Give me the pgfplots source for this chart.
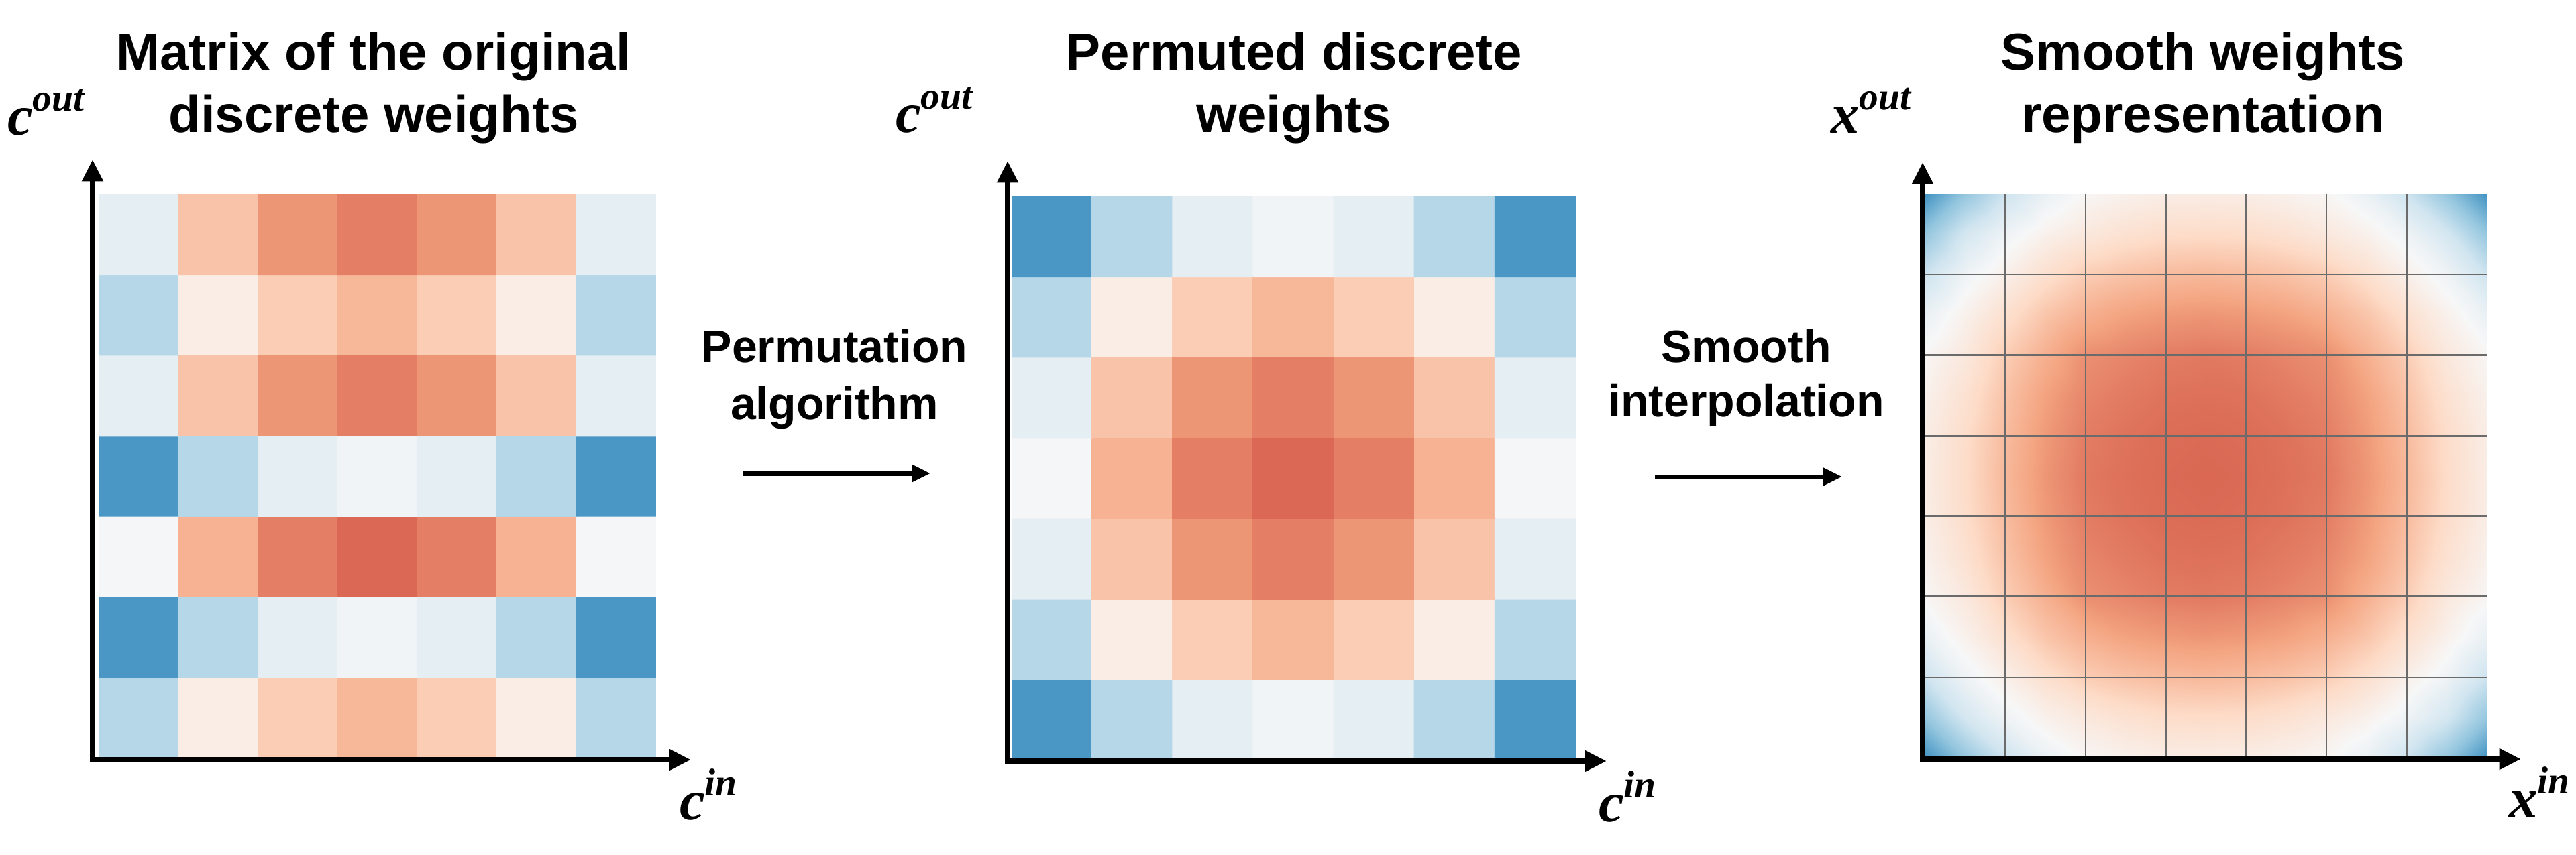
\documentclass[border=0pt]{standalone}
\usepackage{fontspec}
\setmainfont{Liberation Sans}
\newfontfamily\lserif{Liberation Serif}
\usepackage{pgfplots}
\pgfplotsset{compat=1.18}
\usetikzlibrary{arrows.meta}
\pgfplotsset{colormap={rdbu}{rgb255=(67,147,195) rgb255=(146,197,222) rgb255=(209,229,240) rgb255=(247,247,247) rgb255=(253,219,199) rgb255=(244,165,130) rgb255=(214,96,77)}}
\newcommand{\axlab}[2]{{\lserif\bfseries\itshape\fontsize{17}{17}\selectfont #1\raisebox{0.42em}{\fontsize{11.5}{11.5}\selectfont #2}}}
\newcommand{\ttl}{\bfseries\fontsize{15.6}{18}\selectfont}
\newcommand{\midf}{\bfseries\fontsize{13.6}{16}\selectfont}
\begin{document}
\begin{tikzpicture}[x=1pt,y=1pt]
\path[use as bounding box] (0,0) rectangle (768,254.8);
\pgfplotsset{hm/.style={anchor=south west, scale only axis, height=168.2pt,
  xmin=0,xmax=7,ymin=0,ymax=7, colormap name=rdbu, point meta min=-1, point meta max=1}}
% Panel 1: original discrete weights
\begin{axis}[hm, at={(29.6pt,28.8pt)}, width=166pt, hide axis]
\addplot[matrix plot*, mesh/cols=7, mesh/rows=7, point meta=explicit] coordinates {
(0.5,0.5)[-0.48] (1.5,0.5)[0.12] (2.5,0.5)[0.42] (3.5,0.5)[0.55] (4.5,0.5)[0.42] (5.5,0.5)[0.12] (6.5,0.5)[-0.48]
(0.5,1.5)[-0.97] (1.5,1.5)[-0.48] (2.5,1.5)[-0.17] (3.5,1.5)[-0.05] (4.5,1.5)[-0.17] (5.5,1.5)[-0.48] (6.5,1.5)[-0.97]
(0.5,2.5)[-0.02] (1.5,2.5)[0.59] (2.5,2.5)[0.85] (3.5,2.5)[0.96] (4.5,2.5)[0.85] (5.5,2.5)[0.59] (6.5,2.5)[-0.02]
(0.5,3.5)[-0.97] (1.5,3.5)[-0.48] (2.5,3.5)[-0.17] (3.5,3.5)[-0.05] (4.5,3.5)[-0.17] (5.5,3.5)[-0.48] (6.5,3.5)[-0.97]
(0.5,4.5)[-0.17] (1.5,4.5)[0.48] (2.5,4.5)[0.74] (3.5,4.5)[0.85] (4.5,4.5)[0.74] (5.5,4.5)[0.48] (6.5,4.5)[-0.17]
(0.5,5.5)[-0.48] (1.5,5.5)[0.12] (2.5,5.5)[0.42] (3.5,5.5)[0.55] (4.5,5.5)[0.42] (5.5,5.5)[0.12] (6.5,5.5)[-0.48]
(0.5,6.5)[-0.17] (1.5,6.5)[0.48] (2.5,6.5)[0.74] (3.5,6.5)[0.85] (4.5,6.5)[0.74] (5.5,6.5)[0.48] (6.5,6.5)[-0.17]
};
\end{axis}
% Panel 2: permuted discrete weights
\begin{axis}[hm, at={(301.6pt,28.2pt)}, width=168.2pt, hide axis]
\addplot[matrix plot*, mesh/cols=7, mesh/rows=7, point meta=explicit] coordinates {
(0.5,0.5)[-0.97] (1.5,0.5)[-0.48] (2.5,0.5)[-0.17] (3.5,0.5)[-0.05] (4.5,0.5)[-0.17] (5.5,0.5)[-0.48] (6.5,0.5)[-0.97]
(0.5,1.5)[-0.48] (1.5,1.5)[0.12] (2.5,1.5)[0.42] (3.5,1.5)[0.55] (4.5,1.5)[0.42] (5.5,1.5)[0.12] (6.5,1.5)[-0.48]
(0.5,2.5)[-0.17] (1.5,2.5)[0.48] (2.5,2.5)[0.74] (3.5,2.5)[0.85] (4.5,2.5)[0.74] (5.5,2.5)[0.48] (6.5,2.5)[-0.17]
(0.5,3.5)[-0.02] (1.5,3.5)[0.59] (2.5,3.5)[0.85] (3.5,3.5)[0.96] (4.5,3.5)[0.85] (5.5,3.5)[0.59] (6.5,3.5)[-0.02]
(0.5,4.5)[-0.17] (1.5,4.5)[0.48] (2.5,4.5)[0.74] (3.5,4.5)[0.85] (4.5,4.5)[0.74] (5.5,4.5)[0.48] (6.5,4.5)[-0.17]
(0.5,5.5)[-0.48] (1.5,5.5)[0.12] (2.5,5.5)[0.42] (3.5,5.5)[0.55] (4.5,5.5)[0.42] (5.5,5.5)[0.12] (6.5,5.5)[-0.48]
(0.5,6.5)[-0.97] (1.5,6.5)[-0.48] (2.5,6.5)[-0.17] (3.5,6.5)[-0.05] (4.5,6.5)[-0.17] (5.5,6.5)[-0.48] (6.5,6.5)[-0.97]
};
\end{axis}
% Panel 3: smooth representation
\begin{axis}[hm, at={(574pt,28.8pt)}, width=167.4pt, axis line style={draw=none},
  xtick={1,2,3,4,5,6}, ytick={1,2,3,4,5,6}, xticklabels={}, yticklabels={},
  major tick length=0pt, grid=major, major grid style={draw=black!58, line width=0.5pt}, axis on top]
\addplot[surf, shader=interp, mesh/cols=15, mesh/rows=15, point meta=explicit] coordinates {
(0,0)[-1.00] (0.5,0)[-0.65] (1,0)[-0.35] (1.5,0)[-0.12] (2,0)[0.02] (2.5,0)[0.08] (3,0)[0.12] (3.5,0)[0.13] (4,0)[0.12] (4.5,0)[0.08] (5,0)[0.02] (5.5,0)[-0.12] (6,0)[-0.35] (6.5,0)[-0.65] (7,0)[-1.00]
(0,0.5)[-0.65] (0.5,0.5)[-0.30] (1,0.5)[-0.08] (1.5,0.5)[0.08] (2,0.5)[0.18] (2.5,0.5)[0.26] (3,0.5)[0.31] (3.5,0.5)[0.32] (4,0.5)[0.31] (4.5,0.5)[0.26] (5,0.5)[0.18] (5.5,0.5)[0.08] (6,0.5)[-0.08] (6.5,0.5)[-0.30] (7,0.5)[-0.65]
(0,1)[-0.35] (0.5,1)[-0.08] (1,1)[0.10] (1.5,1)[0.28] (2,1)[0.42] (2.5,1)[0.49] (3,1)[0.53] (3.5,1)[0.55] (4,1)[0.53] (4.5,1)[0.49] (5,1)[0.42] (5.5,1)[0.28] (6,1)[0.10] (6.5,1)[-0.08] (7,1)[-0.35]
(0,1.5)[-0.12] (0.5,1.5)[0.08] (1,1.5)[0.28] (1.5,1.5)[0.47] (2,1.5)[0.60] (2.5,1.5)[0.68] (3,1.5)[0.72] (3.5,1.5)[0.74] (4,1.5)[0.72] (4.5,1.5)[0.68] (5,1.5)[0.60] (5.5,1.5)[0.47] (6,1.5)[0.28] (6.5,1.5)[0.08] (7,1.5)[-0.12]
(0,2)[0.02] (0.5,2)[0.18] (1,2)[0.42] (1.5,2)[0.60] (2,2)[0.77] (2.5,2)[0.82] (3,2)[0.86] (3.5,2)[0.88] (4,2)[0.86] (4.5,2)[0.82] (5,2)[0.77] (5.5,2)[0.60] (6,2)[0.42] (6.5,2)[0.18] (7,2)[0.02]
(0,2.5)[0.08] (0.5,2.5)[0.26] (1,2.5)[0.49] (1.5,2.5)[0.68] (2,2.5)[0.82] (2.5,2.5)[0.87] (3,2.5)[0.91] (3.5,2.5)[0.92] (4,2.5)[0.91] (4.5,2.5)[0.87] (5,2.5)[0.82] (5.5,2.5)[0.68] (6,2.5)[0.49] (6.5,2.5)[0.26] (7,2.5)[0.08]
(0,3)[0.12] (0.5,3)[0.31] (1,3)[0.53] (1.5,3)[0.72] (2,3)[0.86] (2.5,3)[0.91] (3,3)[0.94] (3.5,3)[0.95] (4,3)[0.94] (4.5,3)[0.91] (5,3)[0.86] (5.5,3)[0.72] (6,3)[0.53] (6.5,3)[0.31] (7,3)[0.12]
(0,3.5)[0.13] (0.5,3.5)[0.32] (1,3.5)[0.55] (1.5,3.5)[0.74] (2,3.5)[0.88] (2.5,3.5)[0.92] (3,3.5)[0.95] (3.5,3.5)[0.96] (4,3.5)[0.95] (4.5,3.5)[0.92] (5,3.5)[0.88] (5.5,3.5)[0.74] (6,3.5)[0.55] (6.5,3.5)[0.32] (7,3.5)[0.13]
(0,4)[0.12] (0.5,4)[0.31] (1,4)[0.53] (1.5,4)[0.72] (2,4)[0.86] (2.5,4)[0.91] (3,4)[0.94] (3.5,4)[0.95] (4,4)[0.94] (4.5,4)[0.91] (5,4)[0.86] (5.5,4)[0.72] (6,4)[0.53] (6.5,4)[0.31] (7,4)[0.12]
(0,4.5)[0.08] (0.5,4.5)[0.26] (1,4.5)[0.49] (1.5,4.5)[0.68] (2,4.5)[0.82] (2.5,4.5)[0.87] (3,4.5)[0.91] (3.5,4.5)[0.92] (4,4.5)[0.91] (4.5,4.5)[0.87] (5,4.5)[0.82] (5.5,4.5)[0.68] (6,4.5)[0.49] (6.5,4.5)[0.26] (7,4.5)[0.08]
(0,5)[0.02] (0.5,5)[0.18] (1,5)[0.42] (1.5,5)[0.60] (2,5)[0.77] (2.5,5)[0.82] (3,5)[0.86] (3.5,5)[0.88] (4,5)[0.86] (4.5,5)[0.82] (5,5)[0.77] (5.5,5)[0.60] (6,5)[0.42] (6.5,5)[0.18] (7,5)[0.02]
(0,5.5)[-0.12] (0.5,5.5)[0.08] (1,5.5)[0.28] (1.5,5.5)[0.47] (2,5.5)[0.60] (2.5,5.5)[0.68] (3,5.5)[0.72] (3.5,5.5)[0.74] (4,5.5)[0.72] (4.5,5.5)[0.68] (5,5.5)[0.60] (5.5,5.5)[0.47] (6,5.5)[0.28] (6.5,5.5)[0.08] (7,5.5)[-0.12]
(0,6)[-0.35] (0.5,6)[-0.08] (1,6)[0.10] (1.5,6)[0.28] (2,6)[0.42] (2.5,6)[0.49] (3,6)[0.53] (3.5,6)[0.55] (4,6)[0.53] (4.5,6)[0.49] (5,6)[0.42] (5.5,6)[0.28] (6,6)[0.10] (6.5,6)[-0.08] (7,6)[-0.35]
(0,6.5)[-0.65] (0.5,6.5)[-0.30] (1,6.5)[-0.08] (1.5,6.5)[0.08] (2,6.5)[0.18] (2.5,6.5)[0.26] (3,6.5)[0.31] (3.5,6.5)[0.32] (4,6.5)[0.31] (4.5,6.5)[0.26] (5,6.5)[0.18] (5.5,6.5)[0.08] (6,6.5)[-0.08] (6.5,6.5)[-0.30] (7,6.5)[-0.65]
(0,7)[-1.00] (0.5,7)[-0.65] (1,7)[-0.35] (1.5,7)[-0.12] (2,7)[0.02] (2.5,7)[0.08] (3,7)[0.12] (3.5,7)[0.13] (4,7)[0.12] (4.5,7)[0.08] (5,7)[0.02] (5.5,7)[-0.12] (6,7)[-0.35] (6.5,7)[-0.65] (7,7)[-1.00]
};
\end{axis}
% axis arrows
\tikzset{axarr/.style={line width=1.7pt, line join=miter, {Triangle[width=6pt,length=6.5pt]}-{Triangle[width=6pt,length=6.5pt]}}}
\draw[axarr] (27.6,207.2) -- (27.6,28.2) -- (206,28.2);
\draw[axarr] (300.4,206.8) -- (300.4,27.8) -- (479,27.8);
\draw[axarr] (573.2,206.4) -- (573.2,28.4) -- (751.6,28.4);
% axis labels
\node[anchor=base west, inner sep=0] at (2,214.5) {\axlab{c}{out}};
\node[anchor=base west, inner sep=0] at (202.4,10.4) {\axlab{c}{in}};
\node[anchor=base west, inner sep=0] at (266.8,215.2) {\axlab{c}{out}};
\node[anchor=base west, inner sep=0] at (476.4,9.8) {\axlab{c}{in}};
\node[anchor=base west, inner sep=0] at (545.6,215) {\axlab{x}{out}};
\node[anchor=base west, inner sep=0] at (747.8,11) {\axlab{x}{in}};
% titles
\node[anchor=base, inner sep=0] at (111.4,233.8) {\ttl Matrix of the original};
\node[anchor=base, inner sep=0] at (111.4,215.2) {\ttl discrete weights};
\node[anchor=base, inner sep=0] at (385.8,233.8) {\ttl Permuted discrete};
\node[anchor=base, inner sep=0] at (385.8,215.2) {\ttl weights};
\node[anchor=base, inner sep=0] at (656.8,233.8) {\ttl Smooth weights};
\node[anchor=base, inner sep=0] at (656.8,215.2) {\ttl representation};
% middle labels and arrows
\node[anchor=base, inner sep=0] at (248.8,146.8) {\midf Permutation};
\node[anchor=base, inner sep=0] at (248.8,129.8) {\midf algorithm};
\draw[line width=1.4pt, -{Triangle[width=5pt,length=5.6pt]}] (221.6,113.6) -- (277.4,113.6);
\node[anchor=base, inner sep=0] at (520.6,146.8) {\midf Smooth};
\node[anchor=base, inner sep=0] at (520.6,130.6) {\midf interpolation};
\draw[line width=1.4pt, -{Triangle[width=5pt,length=5.6pt]}] (493.4,112.6) -- (549.2,112.6);
\end{tikzpicture}
\end{document}
